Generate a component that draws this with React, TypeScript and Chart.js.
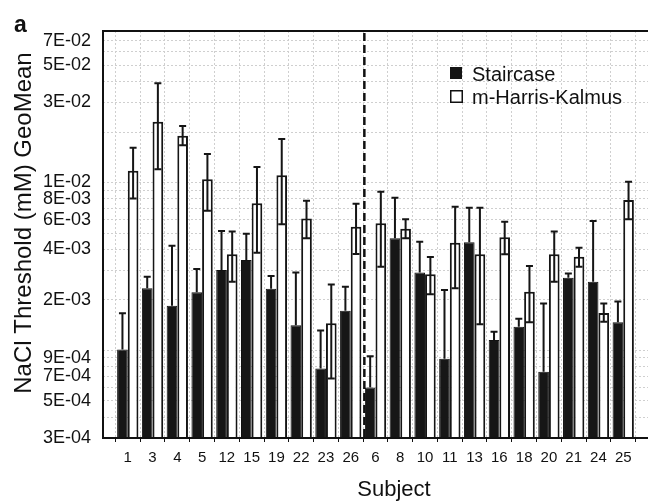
import React, { useEffect, useRef } from "react";
import { Chart, registerables } from "chart.js";

Chart.register(...registerables);

const subjects = ["1", "3", "4", "5", "12", "15", "19", "22", "23", "26", "6", "8", "10", "11", "13", "16", "18", "20", "21", "24", "25"];

const staircase = [1.01e-3, 2.34e-3, 1.84e-3, 2.22e-3, 3.01e-3, 3.45e-3, 2.33e-3, 1.41e-3, 7.8e-4, 1.72e-3, 6.0e-4, 4.65e-3, 2.91e-3, 8.9e-4, 4.4e-3, 1.15e-3, 1.38e-3, 7.45e-4, 2.71e-3, 2.56e-3, 1.47e-3];
const staircaseUpper = [1.66e-3, 2.74e-3, 4.2e-3, 3.05e-3, 5.14e-3, 4.95e-3, 2.77e-3, 2.91e-3, 1.31e-3, 2.39e-3, 9.2e-4, 8.1e-3, 4.43e-3, 2.29e-3, 7.07e-3, 1.29e-3, 1.54e-3, 1.9e-3, 2.87e-3, 5.89e-3, 1.95e-3];

const harrisKalmus = [1.175e-2, 2.3e-2, 1.9e-2, 1.044e-2, 3.73e-3, 7.51e-3, 1.103e-2, 6.11e-3, 1.45e-3, 5.45e-3, 5.71e-3, 5.3e-3, 2.84e-3, 4.38e-3, 3.73e-3, 4.71e-3, 2.23e-3, 3.73e-3, 3.61e-3, 1.67e-3, 7.86e-3];
const harrisKalmusUpper = [1.61e-2, 3.9e-2, 2.17e-2, 1.48e-2, 5.1e-3, 1.236e-2, 1.816e-2, 7.78e-3, 2.47e-3, 7.47e-3, 8.81e-3, 6.03e-3, 3.6e-3, 7.17e-3, 7.07e-3, 5.83e-3, 3.18e-3, 5.1e-3, 4.08e-3, 1.9e-3, 1.01e-2];
const harrisKalmusLower = [8.04e-3, 1.2e-2, 1.67e-2, 6.79e-3, 2.56e-3, 3.81e-3, 5.63e-3, 4.65e-3, 6.8e-4, 3.75e-3, 3.15e-3, 4.65e-3, 2.16e-3, 2.34e-3, 1.43e-3, 3.73e-3, 1.47e-3, 2.56e-3, 3.15e-3, 1.48e-3, 6.03e-3];

const yTickValues = [0.07, 0.05, 0.03, 0.01, 0.008, 0.006, 0.004, 0.002, 0.0009, 0.0007, 0.0005, 0.0003];
const yTickLabels = ["7E-02", "5E-02", "3E-02", "1E-02", "8E-03", "6E-03", "4E-03", "2E-03", "9E-04", "7E-04", "5E-04", "3E-04"];
const yGridValues = [
  3e-4, 4e-4, 5e-4, 6e-4, 7e-4, 8e-4, 9e-4,
  1e-3, 2e-3, 3e-3, 4e-3, 5e-3, 6e-3, 7e-3, 8e-3, 9e-3,
  1e-2, 2e-2, 3e-2, 4e-2, 5e-2, 6e-2, 7e-2, 8e-2,
];
const yMin = 3e-4;
const yMax = 0.08;
const dividerPosition = 10.55; // between subject 26 and subject 6 (x data units)

const seriesNames = ["Staircase", "m-Harris-Kalmus"];
const yTitle = "NaCl Threshold (mM) GeoMean";
const xTitle = "Subject";
const panelLetter = "a";

const FONT = "'Liberation Sans', Arial, Helvetica, sans-serif";

const errorBarPlugin = {
  id: "errorBars",
  afterDatasetsDraw(chart: any) {
    const ctx = chart.ctx;
    const ys = chart.scales.y;
    const sets: [number[], number[] | null][] = [
      [staircaseUpper, null],
      [harrisKalmusUpper, harrisKalmusLower],
    ];
    ctx.save();
    ctx.strokeStyle = "#151515";
    ctx.lineWidth = 2;
    sets.forEach(([up, lo], di) => {
      const meta = chart.getDatasetMeta(di);
      meta.data.forEach((bar: any, i: number) => {
        const x = bar.x;
        const yTop = ys.getPixelForValue(up[i]);
        const yBot = lo ? ys.getPixelForValue(lo[i]) : bar.y;
        ctx.beginPath();
        ctx.moveTo(x, yTop);
        ctx.lineTo(x, yBot);
        ctx.moveTo(x - 3.5, yTop);
        ctx.lineTo(x + 3.5, yTop);
        if (lo) {
          ctx.moveTo(x - 3.5, yBot);
          ctx.lineTo(x + 3.5, yBot);
        }
        ctx.stroke();
      });
    });
    ctx.restore();
  },
};

const decorPlugin = {
  id: "decor",
  afterDatasetsDraw(chart: any) {
    const ctx = chart.ctx;
    const { left, right, top, bottom } = chart.chartArea;
    const xs = chart.scales.x;
    ctx.save();
    // divider
    const dx = xs.getPixelForValue(dividerPosition);
    ctx.strokeStyle = "#111";
    ctx.lineWidth = 2.5;
    ctx.setLineDash([8, 4]);
    ctx.beginPath();
    ctx.moveTo(dx, top + 2);
    ctx.lineTo(dx, bottom);
    ctx.stroke();
    ctx.setLineDash([]);
    // frame
    ctx.strokeStyle = "#111";
    ctx.lineWidth = 2;
    ctx.beginPath();
    ctx.moveTo(right, top);
    ctx.lineTo(left, top);
    ctx.lineTo(left, bottom);
    ctx.lineTo(right, bottom);
    ctx.stroke();
    // legend
    const lx = 450;
    const rows = [67, 90];
    ctx.font = `20px ${FONT}`;
    ctx.textBaseline = "alphabetic";
    ctx.textAlign = "left";
    rows.forEach((ry, i) => {
      if (i === 0) {
        ctx.fillStyle = "#151515";
        ctx.fillRect(lx, ry, 12, 12);
      } else {
        ctx.fillStyle = "#fff";
        ctx.fillRect(lx, ry, 12, 12);
        ctx.strokeStyle = "#111";
        ctx.lineWidth = 1.5;
        ctx.strokeRect(lx + 0.75, ry + 0.75, 11.5, 11.5);
      }
      ctx.fillStyle = "#111";
      ctx.fillText(chart.data.datasets[i].label, lx + 22, ry + 14);
    });
    // axis titles and panel letter
    ctx.fillStyle = "#111";
    ctx.font = `22px ${FONT}`;
    ctx.textAlign = "center";
    ctx.fillText(xTitle, 394, 496);
    ctx.save();
    ctx.translate(31, 223);
    ctx.rotate(-Math.PI / 2);
    ctx.font = `24px ${FONT}`;
    ctx.textAlign = "center";
    ctx.fillText(yTitle, 0, 0);
    ctx.restore();
    ctx.font = `bold 23px ${FONT}`;
    ctx.textAlign = "left";
    ctx.fillText(panelLetter, 14, 32);
    ctx.restore();
  },
};

export default function App() {
  const ref = useRef<HTMLCanvasElement | null>(null);
  useEffect(() => {
    if (!ref.current) return;
    const chart = new Chart(ref.current, {
      type: "bar",
      data: {
        datasets: [
          {
            label: seriesNames[0],
            data: staircase.map((v, i) => ({ x: i + 1, y: v })),
            backgroundColor: "#161616",
            borderColor: "#111",
            borderWidth: 1,
            categoryPercentage: 0.86,
            barPercentage: 1,
          },
          {
            label: seriesNames[1],
            data: harrisKalmus.map((v, i) => ({ x: i + 1, y: v })),
            backgroundColor: "#ffffff",
            borderColor: "#151515",
            borderWidth: 2,
            categoryPercentage: 0.86,
            barPercentage: 1,
          },
        ],
      } as any,
      options: {
        animation: false,
        responsive: true,
        maintainAspectRatio: false,
        layout: { padding: { top: 31, right: 2, left: 0, bottom: 0 } },
        plugins: { legend: { display: false }, tooltip: { enabled: false }, title: { display: false } },
        scales: {
          x: {
            type: "linear",
            position: "bottom",
            min: 0,
            max: subjects.length + 1,
            offset: false,
            ticks: {
              stepSize: 1,
              autoSkip: false,
              maxRotation: 0,
              minRotation: 0,
              padding: 7,
              color: "#111",
              font: { family: FONT, size: 15 },
              callback: (v: any) => {
                const n = Number(v);
                return n >= 1 && n <= subjects.length && Number.isInteger(n) ? subjects[n - 1] : "";
              },
            },
            grid: {
              color: "#cfcfcf",
              lineWidth: 1,
              drawTicks: true,
              tickLength: 4,
              tickColor: "#111",
              tickWidth: 1,
            },
            border: { display: false, dash: [2, 2] },
            afterFit: (s: any) => {
              s.height = 63;
            },
          } as any,
          y: {
            type: "logarithmic",
            min: yMin,
            max: yMax,
            afterBuildTicks: (s: any) => {
              s.ticks = yGridValues.map((v) => ({ value: v }));
            },
            ticks: {
              autoSkip: false,
              padding: 12,
              color: "#111",
              font: { family: FONT, size: 18 },
              callback: (v: any) => {
                const n = Number(v);
                const idx = yTickValues.findIndex((t) => Math.abs(t - n) / t < 1e-6);
                return idx >= 0 ? yTickLabels[idx] : "";
              },
            },
            grid: { color: "#cfcfcf", lineWidth: 1, drawTicks: false },
            border: { display: false, dash: [2, 2] },
            afterFit: (s: any) => {
              s.width = 103;
            },
          } as any,
        },
      },
      plugins: [errorBarPlugin, decorPlugin],
    });
    return () => chart.destroy();
  }, []);

  return (
    <div style={{ position: "fixed", left: 0, top: 0, width: 649, height: 501, overflow: "hidden", background: "#fff" }}>
      <div style={{ position: "relative", width: 655, height: 501 }}>
        <canvas ref={ref} />
      </div>
    </div>
  );
}
